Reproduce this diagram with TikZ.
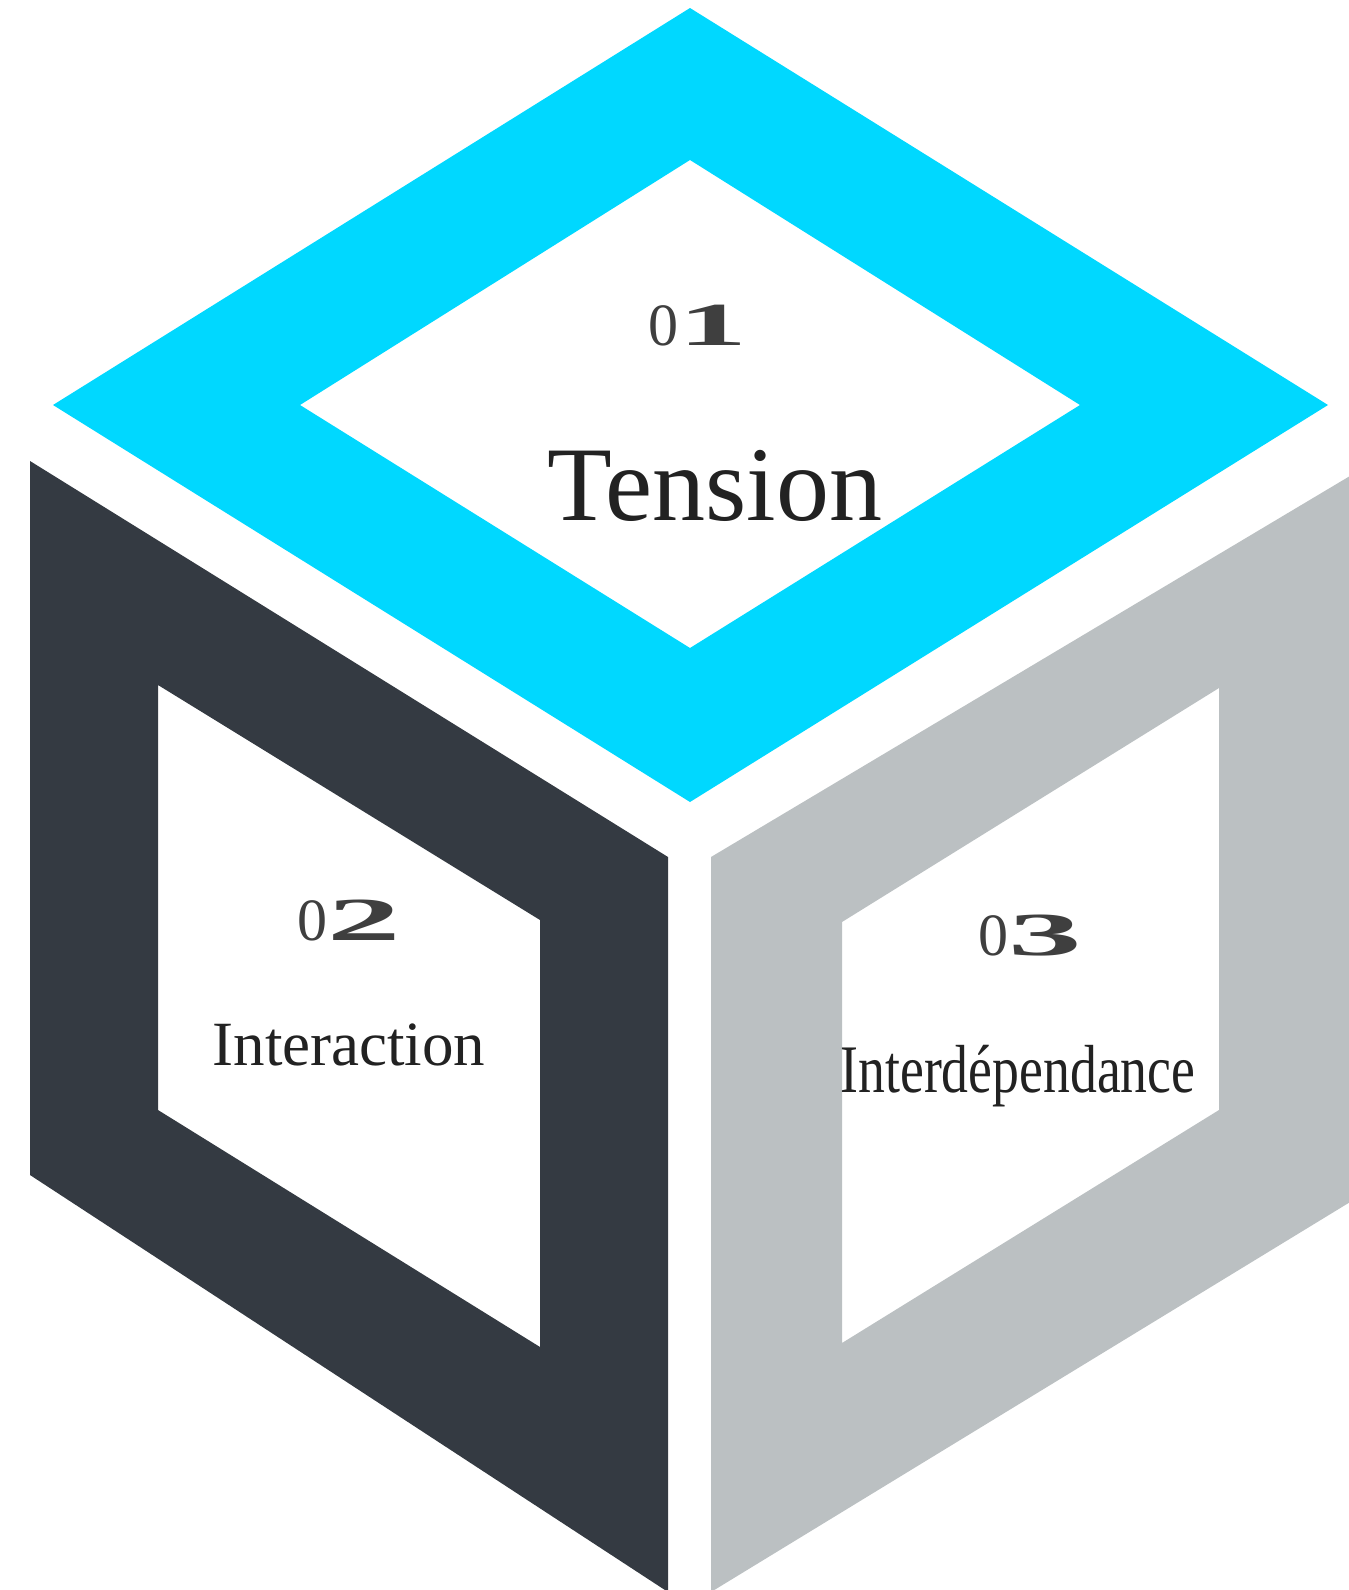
\documentclass[tikz,border=0pt]{standalone}
\usepackage{graphicx}
\usepackage{fontspec}
\setmainfont{Liberation Serif}
\definecolor{cyanf}{HTML}{00D8FF}
\definecolor{darkf}{HTML}{343A42}
\definecolor{grayf}{HTML}{BBC0C2}
\definecolor{numc}{HTML}{3F3F3F}
\definecolor{txtc}{HTML}{222222}
\newcommand\widedigit[2]{\scalebox{#1}[1.02]{\bfseries #2}}
\begin{document}
\begin{tikzpicture}[x=1pt,y=-1pt,
  facefill/.style={fill=#1, even odd rule},
  numtxt/.style={text=numc, inner sep=0pt, anchor=base, font=\fontsize{60}{62}\selectfont},
  labtxt/.style={text=txtc, inner sep=0pt, anchor=base}]
\useasboundingbox (0,0) rectangle (1349,1590);
\clip (0,0) rectangle (1349,1590);
% top face
\fill[facefill=cyanf] (690,8)--(1328,405)--(690,802)--(53,405)--cycle
  (690,160)--(1080,405)--(690,648)--(300,405)--cycle;
% left face
\fill[facefill=darkf] (30,461)--(668,857)--(668,1592)--(30,1175)--cycle
  (158,685)--(540,920)--(540,1347)--(158,1110)--cycle;
% right face
\fill[facefill=grayf] (711,857)--(1360,470)--(1360,1196)--(711,1592)--cycle
  (842,922)--(1219,688)--(1219,1110)--(842,1343)--cycle;
% labels
\node[numtxt] (n1) at (698,345) {0\widedigit{2.3}{1}};
\node[labtxt, font=\fontsize{106}{110}\selectfont] (t1) at (715,520) {Tension};
\node[numtxt] (n2) at (349,940) {0\widedigit{2.45}{2}};
\node[labtxt, font=\fontsize{63}{66}\selectfont] (t2) at (349,1065) {Interaction};
\node[numtxt] (n3) at (1030,955) {0\widedigit{2.45}{3}};
\node[labtxt, font=\fontsize{68}{70}\selectfont] (t3) at (1018,1092) {\scalebox{0.79}[1]{Interdépendance}};
\end{tikzpicture}
\end{document}
